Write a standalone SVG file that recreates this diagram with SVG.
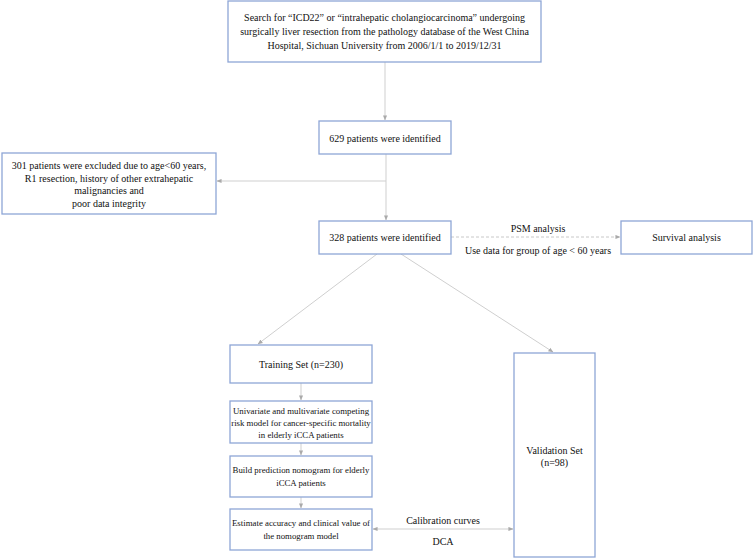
<svg xmlns="http://www.w3.org/2000/svg" width="753" height="560" viewBox="0 0 753 560">
<style>
.box{fill:#fff;stroke:#8ea6d6;stroke-width:1.3}
.t{font-family:"Liberation Serif","Times New Roman",serif;font-size:10px;fill:#111;text-anchor:middle}
.s{font-size:8.8px}
.c{stroke:#cfcfcf;stroke-width:1;fill:none}
.d{stroke:#c8c8c8;stroke-width:1;fill:none;stroke-dasharray:3 2}
</style>
<defs>
<marker id="ah" viewBox="0 0 6 6" refX="5.5" refY="3" markerWidth="5" markerHeight="5" orient="auto-start-reverse">
<path d="M0,0.5 L6,3 L0,5.5 z" fill="#aaa"/>
</marker>
</defs>
<g id="connectors">
<line class="c" x1="385" y1="62" x2="385" y2="120" marker-end="url(#ah)"/>
<line class="c" x1="386" y1="154" x2="386" y2="220" marker-end="url(#ah)"/>
<line class="c" x1="386" y1="181" x2="217" y2="181" marker-end="url(#ah)"/>
<line class="d" x1="451" y1="237" x2="620" y2="237" marker-end="url(#ah)"/>
<line class="c" x1="377" y1="254" x2="258" y2="344" marker-end="url(#ah)"/>
<line class="c" x1="401" y1="254" x2="553" y2="352" marker-end="url(#ah)"/>
<line class="c" x1="301" y1="383" x2="301" y2="400" marker-end="url(#ah)"/>
<line class="c" x1="301" y1="443" x2="301" y2="455" marker-end="url(#ah)"/>
<line class="c" x1="301" y1="497" x2="301" y2="508" marker-end="url(#ah)"/>
<line class="c" x1="373" y1="529" x2="513" y2="529" marker-start="url(#ah)" marker-end="url(#ah)"/>
</g>
<g id="search">
<rect class="box" x="228" y="1" width="313" height="61"/>
<text class="t" x="384.5" y="21">Search for “ICD22” or “intrahepatic cholangiocarcinoma” undergoing</text>
<text class="t" x="384.5" y="35">surgically liver resection from the pathology database of the West China</text>
<text class="t" x="384.5" y="49">Hospital, Sichuan University from 2006/1/1 to 2019/12/31</text>
</g>
<g id="identified629">
<rect class="box" x="319" y="121" width="132" height="33"/>
<text class="t" x="385" y="142">629 patients were identified</text>
</g>
<g id="excluded">
<rect class="box" x="2" y="153" width="214" height="61"/>
<text class="t" x="109" y="169">301 patients were excluded due to age&lt;60 years,</text>
<text class="t" x="109" y="181.5">R1 resection, history of other extrahepatic</text>
<text class="t" x="109" y="194">malignancies and</text>
<text class="t" x="109" y="206.5">poor data integrity</text>
</g>
<g id="identified328">
<rect class="box" x="319" y="221" width="132" height="33"/>
<text class="t" x="385" y="241">328 patients were identified</text>
</g>
<g id="psm">
<text class="t" x="538" y="232">PSM analysis</text>
<text class="t" x="538" y="254">Use data for group of age &lt; 60 years</text>
</g>
<g id="survival">
<rect class="box" x="621" y="221" width="131" height="33"/>
<text class="t" x="686.5" y="241">Survival analysis</text>
</g>
<g id="training">
<rect class="box" x="230" y="345" width="142" height="38"/>
<text class="t" x="301" y="368">Training Set (n=230)</text>
</g>
<g id="univariate">
<rect class="box" x="230" y="401" width="142" height="42"/>
<text class="t s" x="301" y="414">Univariate and multivariate competing</text>
<text class="t s" x="301" y="426">risk model for cancer-specific mortality</text>
<text class="t s" x="301" y="438">in elderly iCCA patients</text>
</g>
<g id="nomogram">
<rect class="box" x="230" y="456" width="142" height="41"/>
<text class="t s" x="301" y="473">Build prediction nomogram for elderly</text>
<text class="t s" x="301" y="486">iCCA patients</text>
</g>
<g id="estimate">
<rect class="box" x="230" y="509" width="142" height="41"/>
<text class="t s" x="301" y="526">Estimate accuracy and clinical value of</text>
<text class="t s" x="301" y="539">the nomogram model</text>
</g>
<g id="validation">
<rect class="box" x="514" y="353" width="81" height="204"/>
<text class="t" x="554.5" y="454">Validation Set</text>
<text class="t" x="554.5" y="466">(n=98)</text>
</g>
<g id="calib">
<text class="t" x="443" y="524">Calibration curves</text>
<text class="t" x="443" y="545">DCA</text>
</g>
</svg>
